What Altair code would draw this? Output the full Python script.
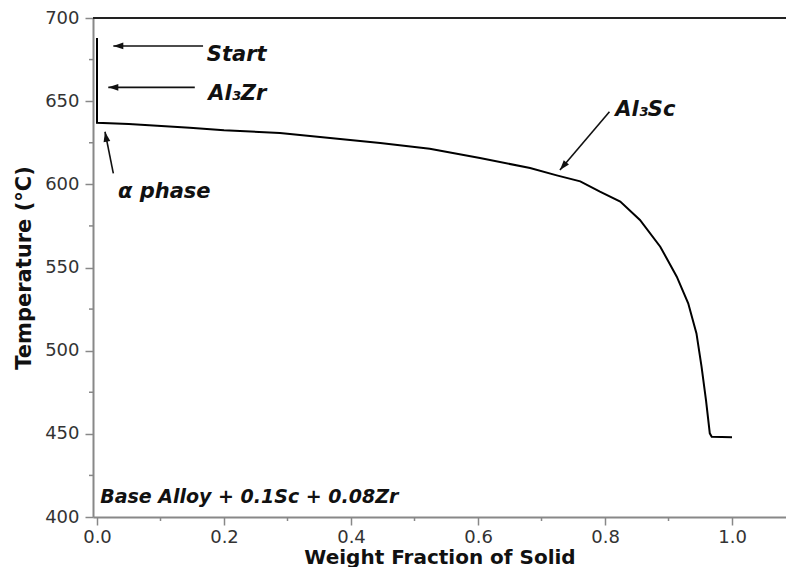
import altair as alt
import pandas as pd

# ---- data ----
fraction = [0.0, 0.0, 0.05, 0.146, 0.2, 0.288, 0.367, 0.446, 0.524, 0.603, 0.682,
            0.724, 0.761, 0.792, 0.824, 0.855, 0.887, 0.913, 0.931, 0.944, 0.952,
            0.959, 0.965, 0.968, 1.0]
temperature = [688, 637, 636.3, 634, 632.5, 630.9, 627.9, 624.8, 621.4, 615.8, 609.8,
               605.4, 601.8, 595.6, 589.6, 578.6, 562.5, 544.5, 528.5, 510.4, 490.4,
               470.3, 450.3, 448.3, 448]

x_major = [0.0, 0.2, 0.4, 0.6, 0.8, 1.0]
x_minor = [0.1, 0.3, 0.5, 0.7, 0.9]
y_major = [400, 450, 500, 550, 600, 650, 700]
y_minor = [425, 475, 525, 575, 625, 675]

labels = ["Start", "Al\u2083Zr", "\u03b1 phase", "Al\u2083Sc"]
label_x = [0.173, 0.175, 0.033, 0.816]
label_y = [674.1, 650.7, 591.8, 641.1]

alloy_label = ["Base Alloy + 0.1Sc + 0.08Zr"]
alloy_x = [0.005]
alloy_y = [408.4]

arrow_tail_x = [0.167, 0.154, 0.0257, 0.807]
arrow_tail_y = [683.2, 658.3, 606.6, 643.7]
arrow_tip_x = [0.0257, 0.0178, 0.0126, 0.729]
arrow_tip_y = [683.2, 658.3, 631.6, 608.6]
arrow_angle = [270, 270, 349, 220]

FONT = "DejaVu Sans"

curve_df = pd.DataFrame({"f": fraction, "T": temperature})
label_df = pd.DataFrame({"text": labels, "x": label_x, "y": label_y})
alloy_df = pd.DataFrame({"text": alloy_label, "x": alloy_x, "y": alloy_y})
arrow_df = pd.DataFrame({"x": arrow_tail_x, "y": arrow_tail_y,
                         "x2": arrow_tip_x, "y2": arrow_tip_y, "angle": arrow_angle})
xminor_df = pd.DataFrame({"v": x_minor})
yminor_df = pd.DataFrame({"v": y_minor})

xscale = alt.Scale(domain=[-0.0063, 1.085], nice=False, zero=False)
yscale = alt.Scale(domain=[400, 700], nice=False, zero=False)

x_axis = alt.Axis(values=x_major, format=".1f", title="Weight Fraction of Solid",
                  grid=False, tickSize=8, labelPadding=3, titleFontSize=20,
                  titleBaseline="alphabetic", titleY=46)
y_axis = alt.Axis(values=y_major, format="d", title="Temperature (\u00b0C)",
                  grid=False, tickSize=8, labelPadding=6, titlePadding=10)

curve = alt.Chart(curve_df).mark_line(color="black", strokeWidth=2).encode(
    x=alt.X("f:Q", scale=xscale, axis=x_axis),
    y=alt.Y("T:Q", scale=yscale, axis=y_axis),
    order=alt.Order("index:Q"),
).transform_window(index="row_number()")

top_frame = alt.Chart(pd.DataFrame({"T": [700]})).mark_rule(color="#222", strokeWidth=2).encode(
    y=alt.Y("T:Q", scale=yscale)
)

xminor = alt.Chart(xminor_df).mark_rule(color="#888", strokeWidth=1.5).encode(
    x=alt.X("v:Q", scale=xscale), y=alt.value(499), y2=alt.value(503)
)
yminor = alt.Chart(yminor_df).mark_rule(color="#888", strokeWidth=1.5).encode(
    y=alt.Y("v:Q", scale=yscale), x=alt.value(-4), x2=alt.value(0)
)

arrow_lines = alt.Chart(arrow_df).mark_rule(color="#111", strokeWidth=1.6).encode(
    x=alt.X("x:Q", scale=xscale), y=alt.Y("y:Q", scale=yscale),
    x2="x2:Q", y2="y2:Q"
)
arrow_heads = alt.Chart(arrow_df).mark_point(
    shape="M0,0L0.34,1L-0.34,1Z", filled=True, color="#111", opacity=1, size=400, strokeWidth=0
).encode(
    x=alt.X("x2:Q", scale=xscale), y=alt.Y("y2:Q", scale=yscale),
    angle=alt.Angle("angle:Q", scale=None)
)

texts = alt.Chart(label_df).mark_text(
    align="left", baseline="alphabetic", font=FONT, fontSize=21,
    fontStyle="italic", fontWeight="bold", color="#111"
).encode(
    x=alt.X("x:Q", scale=xscale), y=alt.Y("y:Q", scale=yscale), text="text:N"
)

alloy_text = alt.Chart(alloy_df).mark_text(
    align="left", baseline="alphabetic", font=FONT, fontSize=19,
    fontStyle="italic", fontWeight="bold", color="#111"
).encode(
    x=alt.X("x:Q", scale=xscale), y=alt.Y("y:Q", scale=yscale), text="text:N"
)

chart = alt.layer(curve, top_frame, xminor, yminor, arrow_lines, arrow_heads,
                  texts, alloy_text).properties(
    width=693, height=499,
    padding={"left": 85, "top": 10, "right": 0, "bottom": 50},
    autosize=alt.AutoSizeParams(type="none"),
).configure_view(stroke=None).configure_axis(
    domainColor="#888", domainWidth=2, tickColor="#888", tickWidth=1.5,
    labelFont=FONT, labelFontSize=18, labelColor="#333",
    titleFont=FONT, titleFontSize=21, titleFontWeight="bold", titleColor="#111",
)

chart.save("out.html", embed_options={"renderer": "svg", "actions": False})
